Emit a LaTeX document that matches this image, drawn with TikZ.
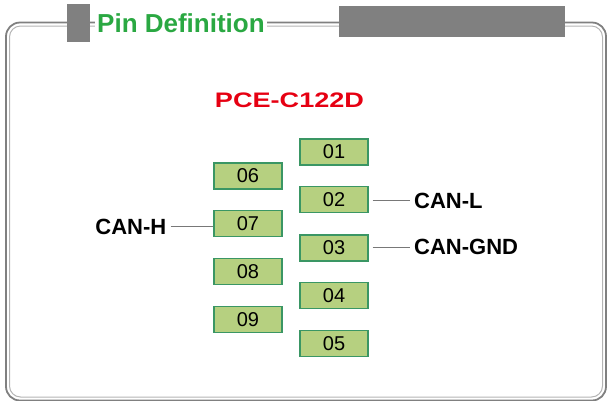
\documentclass[tikz,border=0pt]{standalone}
\usepackage{fontspec}
\setmainfont{Liberation Sans}
\definecolor{pinfill}{RGB}{182,208,128}
\definecolor{pinborder}{RGB}{58,150,100}
\definecolor{titlegreen}{RGB}{42,168,66}
\definecolor{modelred}{RGB}{230,0,18}
\definecolor{framedark}{RGB}{128,128,128}
\definecolor{framelight}{RGB}{180,180,180}
\definecolor{blockgray}{RGB}{128,128,128}
\definecolor{wiregray}{RGB}{120,120,120}
\begin{document}
\begin{tikzpicture}[x=1pt,y=-1pt,
  pinbox/.style={draw=pinborder, fill=pinfill, line width=1.3pt, minimum width=68pt, minimum height=26pt, inner sep=0pt, font=\fontsize{20}{20}\selectfont},
  lbl/.style={font=\bfseries\fontsize{22}{22}\selectfont, inner sep=0pt},
  wire/.style={draw=wiregray, line width=1.1pt},
  block/.style={fill=blockgray, inner sep=0pt, anchor=north west}]
\useasboundingbox (0,0) rectangle (608,400);
% frame (double line)
\draw[framedark, line width=1.8pt, rounded corners=14pt] (6,22.5) rectangle (606,400.5);
\draw[framelight, line width=1pt, rounded corners=11pt] (9.5,26) rectangle (602.5,397);
% header blocks
\node[block, minimum width=23pt, minimum height=38pt] (sq) at (67,4) {};
\node[block, minimum width=226pt, minimum height=31pt] (bar) at (339,6) {};
\node[fill=white, inner xsep=2pt, inner ysep=3pt, anchor=base west, text=titlegreen, font=\bfseries\fontsize{26}{26}\selectfont] (title) at (95,32) {Pin Definition};
% model
\node[text=modelred, inner sep=0pt, font=\bfseries\fontsize{21}{21}\selectfont] (model) at (289.5,100) {\scalebox{1.29}[1]{PCE-C122D}};
% pins
\node[pinbox] (b01) at (334,152) {01};
\node[pinbox] (b02) at (334,199.5) {02};
\node[pinbox] (b03) at (334,248) {03};
\node[pinbox] (b04) at (334,295.5) {04};
\node[pinbox] (b05) at (334,343.3) {05};
\node[pinbox] (b06) at (248,176) {06};
\node[pinbox] (b07) at (248,223.7) {07};
\node[pinbox] (b08) at (248,271.7) {08};
\node[pinbox] (b09) at (248,319.5) {09};
% labels
\node[lbl, anchor=base east] (canh) at (166.5,234.3) {CAN-H};
\node[lbl, anchor=base west] (canl) at (414,208.4) {CAN-L};
\node[lbl, anchor=base west] (cangnd) at (414,254.7) {CAN-GND};
% wires
\draw[wire] ([xshift=4pt]canh.east) -- (canh.east -| b07.west);
\draw[wire] (b02.east |- canl.west) ++(4,0) -- ([xshift=-4pt]canl.west);
\draw[wire] (b03.east |- cangnd.west) ++(4,0) -- ([xshift=-4pt]cangnd.west);
\end{tikzpicture}
\end{document}
